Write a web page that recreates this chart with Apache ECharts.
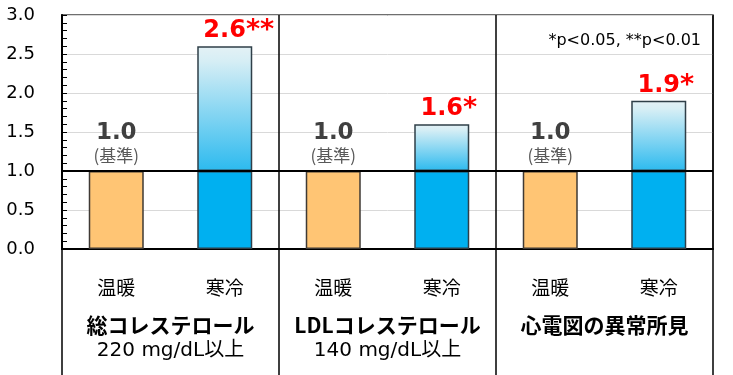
<!DOCTYPE html>
<html><head><meta charset="utf-8">
<script src="https://cdn.jsdelivr.net/npm/echarts@6/dist/echarts.min.js"></script>
<style>html,body{margin:0;padding:0;background:#fff}#c{width:733px;height:375px}</style>
</head><body><div id="c"></div>
<script>
const categories = ['温暖','寒冷','温暖','寒冷','温暖','寒冷'];
const groups = ['総コレステロール','LDLコレステロール','心電図の異常所見'];
const groupSub = ['220 mg/dL以上','140 mg/dL以上',''];
const warm = [1.0, 1.0, 1.0];
const cold = [2.6, 1.6, 1.9];
const coldMarks = ['**','*','*'];
const refLabel = '(基準)';
const noteText = '*p<0.05, **p<0.01';

const NUM = "'DejaVu Sans','Noto Sans CJK JP',sans-serif";
const JP = "'Noto Sans CJK JP','DejaVu Sans',sans-serif";

const warmData = categories.map((c,i)=> i%2===0 ? warm[i>>1] : '-');
const coldBase = categories.map((c,i)=> i%2===1 ? Math.min(cold[i>>1],1) : '-');
const coldTop = categories.map((c,i)=> i%2===1 ? +(cold[i>>1]-1).toFixed(2) : '-');

const chart = echarts.init(document.getElementById('c'));
chart.setOption({
  animation:false,
  title:{text:noteText,right:27,top:28,textStyle:{fontSize:16,fontWeight:'normal',color:'#000',fontFamily:NUM}},
  grid:{left:62,right:20,top:15,bottom:126,show:true,borderColor:'#404040',borderWidth:1.5,containLabel:false},
  xAxis:[
    {type:'category',data:categories,position:'bottom',
     axisLine:{lineStyle:{color:'#000',width:2}},axisTick:{show:false},
     axisLabel:{margin:29,fontSize:19,color:'#000',fontFamily:JP},splitLine:{show:false}},
    {type:'category',data:groups,position:'bottom',
     axisLine:{show:false},
     axisTick:{show:true,length:126,lineStyle:{color:'#000',width:1.5}},
     splitLine:{show:true,lineStyle:{color:'#000',width:1.5}},
     axisLabel:{margin:63,interval:0,
       formatter:(v,i)=> groupSub[i] ? `{b|${v}}\n{n|${groupSub[i]}}` : `{b|${v}}`,
       rich:{b:{fontSize:21,fontWeight:'bold',color:'#000',fontFamily:JP,lineHeight:26},
             n:{fontSize:20,color:'#000',fontFamily:NUM,lineHeight:26}}}}
  ],
  yAxis:{type:'value',min:0,max:3,interval:0.5,
    axisLine:{show:true,lineStyle:{color:'#000',width:2}},
    axisTick:{show:true,inside:true,length:5,lineStyle:{color:'#000'}},
    minorTick:{show:true,splitNumber:5,length:5,lineStyle:{color:'#000'}},
    splitLine:{lineStyle:{color:'#d9d9d9',width:1}},
    axisLabel:{formatter:v=>v.toFixed(1),fontSize:18,color:'#000',margin:27,fontFamily:NUM}},
  series:[
    {name:'温暖',type:'bar',data:warmData,barWidth:55,barGap:'-100%',
     itemStyle:{color:'#ffc574',borderColor:'#3f3a35',borderWidth:1.5},
     label:{show:true,position:'top',distance:5,
       formatter:p=>`{v|${p.value.toFixed(1)}}\n{s|${refLabel}}`,
       rich:{v:{fontSize:23,fontWeight:'bold',color:'#404040',fontFamily:NUM,lineHeight:25,align:'center'},
             s:{fontSize:17,color:'#595959',fontFamily:JP,lineHeight:20,align:'center'}}},
     markLine:{silent:true,symbol:'none',label:{show:false},lineStyle:{color:'#000',width:2,type:'solid'},data:[{yAxis:1}]},
     z:2},
    {name:'寒冷base',type:'bar',stack:'cold',data:coldBase,barWidth:55,barGap:'-100%',
     itemStyle:{color:'#00b0f0',borderColor:'#2f3f48',borderWidth:1.5},z:2},
    {name:'寒冷',type:'bar',stack:'cold',data:coldTop,barWidth:55,barGap:'-100%',
     itemStyle:{color:new echarts.graphic.LinearGradient(0,0,0,1,[
        {offset:0,color:'#e4f1f5'},{offset:0.12,color:'#d6eef5'},{offset:1,color:'#2cbaef'}]),
        borderColor:'#2f3f48',borderWidth:1.5},
     label:{show:true,position:'top',distance:1,
       formatter:p=>{const g=p.dataIndex>>1;return `{n|${cold[g].toFixed(1)}}{a|${coldMarks[g]}}`;},
       rich:{n:{fontSize:24,fontWeight:'bold',color:'#ff0000',fontFamily:NUM,lineHeight:28},
             a:{fontSize:27,fontWeight:'bold',color:'#ff0000',fontFamily:NUM,lineHeight:28}}},
     labelLayout:p=>({dx:coldMarks[p.dataIndex>>1].length*7}),
     z:2}
  ]
});
</script></body></html>
